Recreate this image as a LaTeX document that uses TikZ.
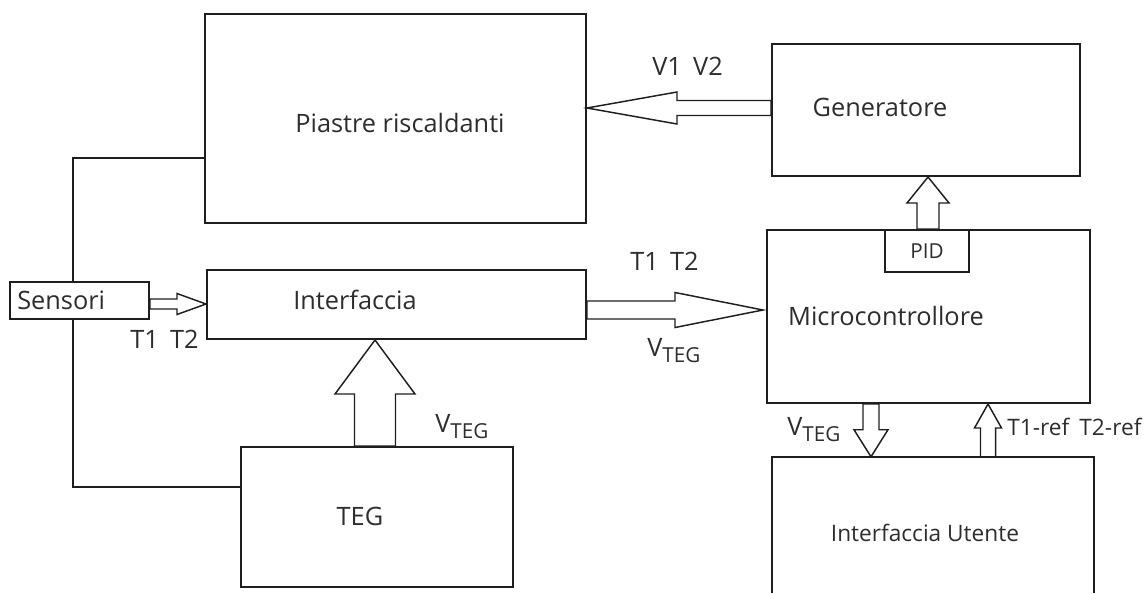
\documentclass[tikz,border=0pt]{standalone}
\usepackage{fontspec}
\setmainfont{Open Sans}
\usetikzlibrary{calc,fit}
\definecolor{linec}{RGB}{30,30,30}
\definecolor{txtc}{RGB}{45,45,45}
\def\u{0.75pt}
\newcommand{\vteg}{V\raisebox{-5pt}{\fontsize{15.5}{18}\selectfont TEG}}
% tail, tip, shaft half width, head half width, head length (all in px)
\newcommand{\blockarrow}[5]{%
  \coordinate (ba-b) at ($(#2)!#5*\u!(#1)$);
  \draw[blk] ($(#1)!#3*\u!90:(#2)$) -- ($(ba-b)!#3*\u!90:(#2)$) -- ($(ba-b)!#4*\u!90:(#2)$) -- (#2)
    -- ($(ba-b)!#4*\u!-90:(#2)$) -- ($(ba-b)!#3*\u!-90:(#2)$) -- ($(#1)!#3*\u!-90:(#2)$) -- cycle;}
\begin{document}
\begin{tikzpicture}[x=0.75pt,y=-0.75pt,
  box/.style={draw=linec, line width=1.5pt, inner sep=0pt},
  wire/.style={draw=linec, line width=1.5pt},
  blk/.style={draw=linec, line width=1.1pt, line join=miter},
  lbl/.style={text=txtc, font=\fontsize{19}{22}\selectfont, inner sep=0pt},
  lblsm/.style={text=txtc, font=\fontsize{17}{20}\selectfont, inner sep=0pt},
  lblpid/.style={text=txtc, font=\fontsize{15.5}{18}\selectfont, inner sep=0pt}]
\useasboundingbox (0,0) rectangle (1148,593);

% boxes
\node[box, fit={(205,14) (586,223)}] (piastre) {};
\node[box, fit={(772,44) (1080,176)}] (gen) {};
\node[box, fit={(207,270) (586,339)}] (interf) {};
\node[box, fit={(767,230) (1090,403)}] (micro) {};
\node[box, fill=white, fit={(885,230) (969,272)}] (pid) {};
\node[box, fit={(241,447) (513,587)}] (teg) {};
\node[inner sep=0pt, fit={(772,457) (1094,593)}] (ui) {};
\draw[wire] (ui.south west) -- (ui.north west) -- (ui.north east) -- (ui.south east);

% sensor bus
\coordinate (bustop) at (73,158);
\coordinate (busbot) at (73,487);
\draw[wire] (piastre.west |- bustop) -- (bustop) -- (busbot) -- (teg.west |- busbot);
\node[box, fill=white, fit={(10,282) (149,319)}] (sensori) {};

% block arrows
\coordinate (a1s) at (gen.west |- 0,108);
\coordinate (a1e) at (piastre.east |- 0,108);
\blockarrow{a1s}{a1e}{7.5}{16}{90}
\coordinate (a2s) at (sensori.east |- 0,304);
\coordinate (a2e) at (interf.west |- 0,304);
\blockarrow{a2s}{a2e}{5}{10.5}{29}
\coordinate (a3s) at (interf.east |- 0,310);
\coordinate (a3e) at ($(micro.west |- 0,310)+(-3,0)$);
\blockarrow{a3s}{a3e}{9}{17.5}{88}
\coordinate (a4s) at (375,0 |- teg.north);
\coordinate (a4e) at (375,0 |- interf.south);
\blockarrow{a4s}{a4e}{20.5}{40}{54}
\coordinate (a5s) at (928,0 |- pid.north);
\coordinate (a5e) at (928,0 |- gen.south);
\blockarrow{a5s}{a5e}{11}{21}{26}
\coordinate (a6s) at (871,0 |- micro.south);
\coordinate (a6e) at (871,0 |- ui.north);
\blockarrow{a6s}{a6e}{8}{17}{27}
\coordinate (a7s) at (988,0 |- ui.north);
\coordinate (a7e) at (988,0 |- micro.south);
\blockarrow{a7s}{a7e}{7.5}{13.5}{24}

% texts
\node[lbl] (piastre-t) at (400,123) {Piastre riscaldanti};
\node[lbl] (gen-t) at (880,107) {Generatore};
\node[lbl] (interf-t) at (355,300) {Interfaccia};
\node[lbl] (micro-t) at (886,316) {Microcontrollore};
\node[lblpid] (pid-t) at (927,251) {PID};
\node[lbl] (teg-t) at (360,516) {TEG};
\node[lblsm] (ui-t) at (925,533) {Interfaccia Utente};
\node[lbl, anchor=west] (sensori-t) at (17,300) {Sensori};
\node[lbl, anchor=base west] (v12) at (652,75) {V1\hspace{0.45em}V2};
\node[lbl, anchor=base west] (t12a) at (130,348) {T1\hspace{0.45em}T2};
\node[lbl, anchor=base west] (t12b) at (630,270) {T1\hspace{0.45em}T2};
\node[lbl, anchor=base west] (vteg1) at (647,356) {\vteg};
\node[lbl, anchor=base west] (vteg2) at (435,432) {\vteg};
\node[lbl, anchor=base west] (vteg3) at (787,435) {\vteg};
\node[lblsm, anchor=base west] (tref) at (1007,435) {T1-ref\hspace{0.45em}T2-ref};
\end{tikzpicture}
\end{document}
